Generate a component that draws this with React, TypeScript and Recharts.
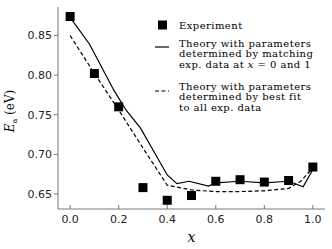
import React from "react";
import { ComposedChart, Line, Scatter, XAxis, YAxis } from "recharts";

// experiment
const expX = [0, 0.1, 0.2, 0.3, 0.4, 0.5, 0.6, 0.7, 0.8, 0.9, 1.0];
const expY = [0.874, 0.802, 0.76, 0.658, 0.642, 0.648, 0.666, 0.668, 0.665, 0.667, 0.684];

// theory, matched at x = 0 and 1
const solidX = [0, 0.08, 0.18, 0.23, 0.29, 0.4, 0.44, 0.49, 0.57, 0.6, 0.7, 0.8, 0.9, 0.96, 1.0];
const solidY = [0.873, 0.839, 0.781, 0.756, 0.733, 0.674, 0.663, 0.666, 0.66, 0.664, 0.666, 0.664, 0.666, 0.659, 0.681];

// theory, best fit
const dashX = [0, 0.1, 0.2, 0.3, 0.4, 0.5, 0.6, 0.7, 0.8, 0.9, 0.95, 1.0];
const dashY = [0.85, 0.802, 0.756, 0.708, 0.661, 0.655, 0.653, 0.653, 0.654, 0.657, 0.666, 0.683];

const xTicks = [0, 0.2, 0.4, 0.6, 0.8, 1.0];
const yTicks = [0.65, 0.7, 0.75, 0.8, 0.85];

const legendExp = "Experiment";
const legendSolid = ["Theory with parameters", "determined by matching", "exp. data at "];
const legendDash = ["Theory with parameters", "determined by best fit", "to all exp. data"];

const toPoints = (xs: number[], ys: number[]) => xs.map((x, i) => ({ x, y: ys[i] }));
const expData = toPoints(expX, expY);
const solidData = toPoints(solidX, solidY);
const dashData = toPoints(dashX, dashY);

const spine = "#7a7a7a";
const serif = "'DejaVu Serif', serif";
const tickFont = { fill: "#222", fontSize: 11, fontFamily: "'DejaVu Sans', sans-serif" };

const SquareDot = (props: any) => {
  const { cx, cy } = props;
  if (cx == null || cy == null) return null;
  return <rect x={cx - 4.5} y={cy - 4.5} width={9} height={9} fill="#000" />;
};

const LegendBox = () => {
  const tx = 179;
  const gap = 10.6;
  return (
    <svg
      width={332}
      height={249}
      style={{ position: "absolute", left: 0, top: 0, pointerEvents: "none" }}
      fontFamily={serif}
      fontSize={10}
      letterSpacing={0.45}
    >
      <rect x={158} y={20.5} width={9} height={9} fill="#000" />
      <text x={tx} y={28.5}>{legendExp}</text>

      <line x1={155} x2={169} y1={47} y2={47} stroke="#000" strokeWidth={1.2} />
      {legendSolid.map((t, i) => (
        <text key={t} x={tx} y={46.5 + i * gap}>
          {t}
          {i === 2 && (
            <>
              <tspan fontStyle="italic">x</tspan>
              {" = 0 and 1"}
            </>
          )}
        </text>
      ))}

      <line x1={155} x2={169} y1={91} y2={91} stroke="#000" strokeWidth={1.2} strokeDasharray="4 2.5" />
      {legendDash.map((t, i) => (
        <text key={t} x={tx} y={89.5 + i * gap}>{t}</text>
      ))}
    </svg>
  );
};

export default function App() {
  return (
    <div style={{ position: "absolute", left: 0, top: 0, width: 332, height: 249, background: "#fff" }}>
      <ComposedChart width={332} height={249} margin={{ top: 7, right: 7, left: 0, bottom: 0 }}>
        <XAxis
          xAxisId="b"
          dataKey="x"
          type="number"
          domain={[-0.05, 1.05]}
          ticks={xTicks}
          tickFormatter={(v: number) => v.toFixed(1)}
          height={40}
          stroke={spine}
          tickSize={-4}
          tickMargin={10}
          tick={tickFont}
          allowDataOverflow
          label={{ value: "x", position: "insideBottom", offset: 7, fontStyle: "italic", fontFamily: serif, fontSize: 14, fill: "#000" }}
        />
        <XAxis xAxisId="t" orientation="top" type="number" domain={[-0.05, 1.05]} height={0} tick={false} tickLine={false} stroke={spine} />
        <YAxis
          yAxisId="l"
          type="number"
          domain={[0.631, 0.886]}
          ticks={yTicks}
          tickFormatter={(v: number) => v.toFixed(2)}
          width={58}
          stroke={spine}
          tickSize={4}
          tickMargin={2}
          tick={tickFont}
          allowDataOverflow
          label={(p: any) => {
            const vb = p.viewBox;
            const cx = 14;
            const cy = vb.y + vb.height / 2 + 3;
            return (
              <text transform={`translate(${cx},${cy}) rotate(-90)`} textAnchor="middle" fontFamily={serif} fontSize={12} fill="#000">
                <tspan fontStyle="italic">E</tspan>
                <tspan fontSize={8} dy={3}>a</tspan>
                <tspan dy={-3}> (eV)</tspan>
              </text>
            );
          }}
        />
        <YAxis yAxisId="r" orientation="right" type="number" domain={[0.631, 0.886]} width={0} tick={false} tickLine={false} stroke={spine} />

        <Line xAxisId="b" yAxisId="l" data={solidData} dataKey="y" type="linear" stroke="#000" strokeWidth={1.2} dot={false} isAnimationActive={false} />
        <Line xAxisId="b" yAxisId="l" data={dashData} dataKey="y" type="linear" stroke="#000" strokeWidth={1.2} strokeDasharray="4 2.5" dot={false} isAnimationActive={false} />
        <Scatter xAxisId="b" yAxisId="l" data={expData} dataKey="y" shape={SquareDot} isAnimationActive={false} />
      </ComposedChart>
      <LegendBox />
    </div>
  );
}
